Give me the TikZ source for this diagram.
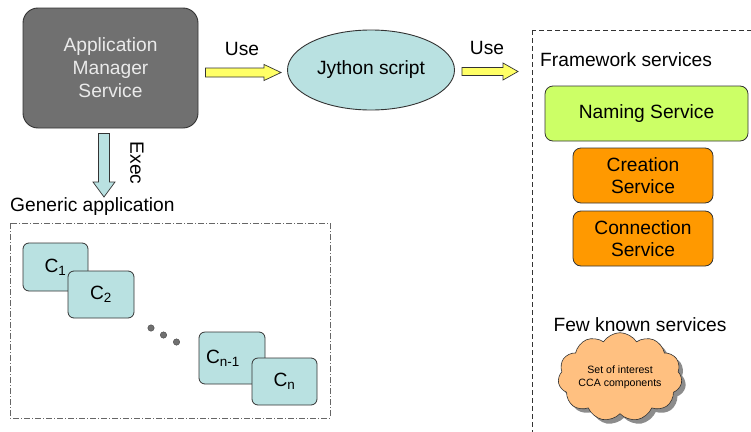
\documentclass[tikz,border=0pt]{standalone}
\usepackage{fontspec}
\setmainfont{Liberation Sans}
\usetikzlibrary{shapes.geometric,shapes.symbols,shadows,calc}

\definecolor{mgrgray}{HTML}{707070}
\definecolor{mgrtext}{HTML}{EAEAEA}
\definecolor{teal}{HTML}{B9E1E1}
\definecolor{usey}{HTML}{FFFF66}
\definecolor{namegreen}{HTML}{CCFF66}
\definecolor{svcorange}{HTML}{FF9900}
\definecolor{cloudfill}{HTML}{FFC080}
\definecolor{edge}{HTML}{333333}

\tikzset{
  txt/.style={font=\fontsize{19.2}{23}\selectfont, inner sep=0pt},
  mgrbox/.style={draw=edge, line width=0.9pt, fill=mgrgray, rounded corners=15pt,
    text=mgrtext, align=center, font=\fontsize{19.2}{23}\selectfont},
  svcbox/.style={draw=edge, line width=0.8pt, rounded corners=8pt, align=center,
    font=\fontsize{19.2}{22}\selectfont},
  compbox/.style={draw=edge, line width=0.8pt, fill=teal, rounded corners=6pt,
    font=\fontsize{19.2}{22}\selectfont},
  blockarrow/.style={draw=edge, line width=0.7pt, line join=miter},
  dotmark/.style={circle, fill=mgrgray, draw=edge, line width=0.3pt, minimum size=6.5pt, inner sep=0pt},
}

\begin{document}
\begin{tikzpicture}[x=1pt,y=-1pt]
\clip (0,0) rectangle (751,431);

% application manager and the script it runs
\node[mgrbox, minimum width=175pt, minimum height=120pt] (am) at (110.5,68)
  {Application\\Manager\\Service};
\node[ellipse, draw=edge, line width=0.9pt, fill=teal, minimum width=167pt,
  minimum height=80pt, font=\fontsize{19.2}{22}\selectfont] (jy) at (371,70) {Jython script};

% "Use" arrow between manager and script
\coordinate (u1s) at ($(am.east)+(7,4.5)$);
\coordinate (u1e) at ($(jy.west)+(-6,2.5)$);
\draw[blockarrow, fill=usey]
  ($(u1s)+(0,-4.5)$) -- ($(u1e)+(-17,-4.5)$) -- ($(u1e)+(-17,-8)$) -- (u1e)
  -- ($(u1e)+(-17,8)$) -- ($(u1e)+(-17,4.5)$) -- ($(u1s)+(0,4.5)$) -- cycle;
\node[txt] (use1) at (242,49) {Use};

% "Use" arrow from script to framework
\coordinate (u2s) at ($(jy.east)+(7,1.5)$);
\coordinate (u2e) at (518,71.5);
\draw[blockarrow, fill=usey]
  ($(u2s)+(0,-4)$) -- ($(u2e)+(-15,-4)$) -- ($(u2e)+(-15,-8.5)$) -- (u2e)
  -- ($(u2e)+(-15,8.5)$) -- ($(u2e)+(-15,4)$) -- ($(u2s)+(0,4)$) -- cycle;
\node[txt] (use2) at (487,48) {Use};

% "Exec" arrow down to the generic application
\coordinate (exs) at ($(am.south)+(-6.5,5)$);
\coordinate (exe) at (104,197);
\draw[blockarrow, fill=teal]
  ($(exs)+(-5.5,0)$) -- ($(exe)+(-5.5,-15)$) -- ($(exe)+(-11,-15)$) -- (exe)
  -- ($(exe)+(11,-15)$) -- ($(exe)+(5.5,-15)$) -- ($(exs)+(5.5,0)$) -- cycle;
\node[txt, rotate=-90] (exec) at (137,163) {Exec};

% generic application with its components
\node[txt, anchor=west] (gatitle) at (10,207) {Generic application};
\draw[draw=gray!80!black, line width=0.7pt, dash pattern=on 6pt off 2pt on 1pt off 2pt]
  (10,223) rectangle (330,418);

\node[compbox, minimum width=65pt, minimum height=48pt] (c1) at (55.5,267) {C\textsubscript{1}};
\node[compbox, minimum width=66pt, minimum height=47pt] (c2) at (101,294.5) {C\textsubscript{2}};
\node[compbox, minimum width=66pt, minimum height=52pt, text width=58pt, align=left] (cn1) at (232,358) {\hspace{3pt}C\textsubscript{n-1}};
\node[compbox, minimum width=65pt, minimum height=47pt] (cn) at (284.5,381.5) {C\textsubscript{n}};

\node[dotmark] (d1) at (151,328) {};
\node[dotmark] (d2) at (163.5,335) {};
\node[dotmark] (d3) at (176.5,342) {};

% framework services
\draw[draw=edge, line width=0.8pt, dash pattern=on 5pt off 3pt] (532,30) rectangle (770,450);
\node[txt, anchor=west] (fwtitle) at (540,60) {Framework services};
\node[svcbox, fill=namegreen, minimum width=203pt, minimum height=55pt] (naming) at (646.5,113.5) {Naming Service};
\node[svcbox, fill=svcorange, minimum width=140pt, minimum height=55pt] (creation) at (643,175.5) {Creation\\Service};
\node[svcbox, fill=svcorange, minimum width=140pt, minimum height=55pt] (connection) at (643,238.5) {Connection\\Service};

% known services
\node[txt] (fewtitle) at (640,325) {Few known services};
\node[cloud, cloud puffs=11, cloud puff arc=115, aspect=1.6, draw=edge, line width=0.6pt,
  fill=cloudfill, minimum width=123pt, minimum height=74pt, inner sep=0pt, align=center,
  font=\fontsize{10.6}{13}\selectfont,
  drop shadow={shadow xshift=4pt, shadow yshift=-4pt, fill=black, opacity=0.45}]
  (cloud) at (620,377) {Set of interest\\CCA components};
\end{tikzpicture}
\end{document}
